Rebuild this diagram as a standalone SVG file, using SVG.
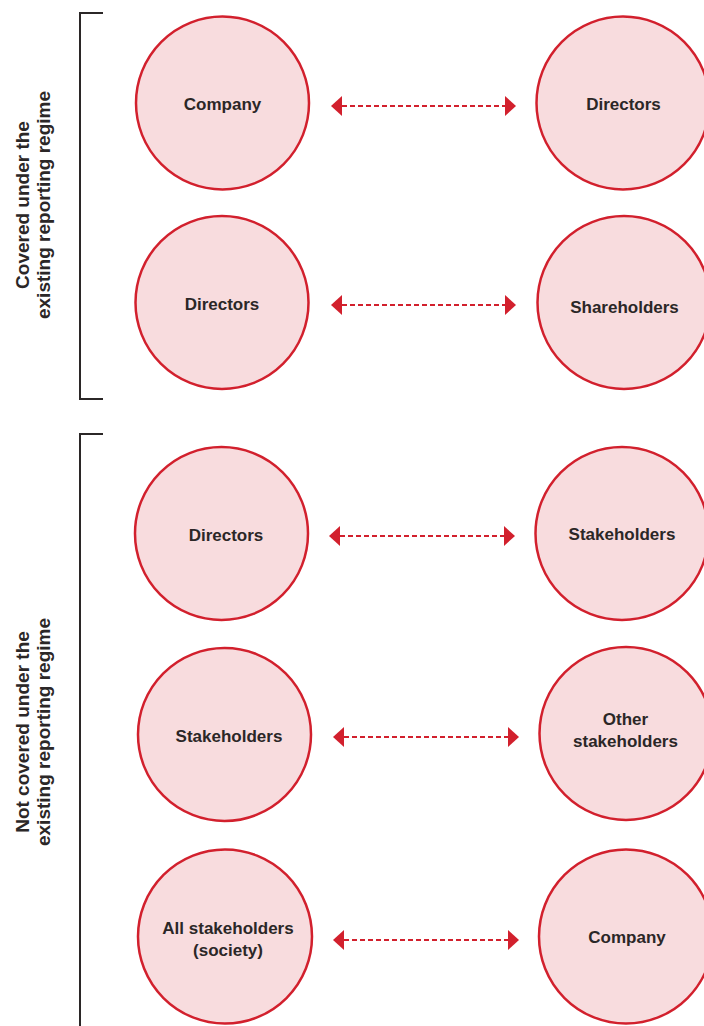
<svg xmlns="http://www.w3.org/2000/svg" width="704" height="1026" viewBox="0 0 704 1026">
<defs>
<style>
.node circle{fill:#f8dcde;stroke:#d2202d;stroke-width:2.5}
.node text{font-family:"Liberation Sans",Arial,sans-serif;font-weight:700;font-size:17px;fill:#2b2727;text-anchor:middle}
.lbl{font-family:"Liberation Sans",Arial,sans-serif;font-weight:700;font-size:19px;fill:#2b2727;text-anchor:middle}
.bracket{fill:none;stroke:#2b2727;stroke-width:2}
.conn line{stroke:#d2202d;stroke-width:2;stroke-dasharray:5 3}
</style>
<marker id="ah" viewBox="0 0 11 20" refX="0" refY="10" markerWidth="11" markerHeight="20" markerUnits="userSpaceOnUse" orient="auto-start-reverse">
<path d="M0,0 L11,10 L0,20 Z" fill="#d2202d"/>
</marker>
</defs>
<g id="brackets">
<path class="bracket" d="M103,13 H80 V399 H103"/>
<path class="bracket" d="M103,434 H80 V1026"/>
</g>
<g id="labels">
<text class="lbl" transform="translate(29,205) rotate(-90)">Covered under the</text>
<text class="lbl" transform="translate(50,205) rotate(-90)">existing reporting regime</text>
<text class="lbl" transform="translate(29,732) rotate(-90)">Not covered under the</text>
<text class="lbl" transform="translate(50,732) rotate(-90)">existing reporting regime</text>
</g>
<g id="connectors" class="conn">
<line x1="342" y1="106" x2="505" y2="106" marker-start="url(#ah)" marker-end="url(#ah)"/>
<line x1="342" y1="305" x2="505" y2="305" marker-start="url(#ah)" marker-end="url(#ah)"/>
<line x1="340" y1="536" x2="504" y2="536" marker-start="url(#ah)" marker-end="url(#ah)"/>
<line x1="344" y1="737" x2="508" y2="737" marker-start="url(#ah)" marker-end="url(#ah)"/>
<line x1="344" y1="940" x2="508" y2="940" marker-start="url(#ah)" marker-end="url(#ah)"/>
</g>
<g id="n1" class="node"><circle cx="222.5" cy="103" r="86.5"/><text x="222.5" y="110">Company</text></g>
<g id="n2" class="node"><circle cx="623" cy="103" r="86.5"/><text x="623.5" y="110">Directors</text></g>
<g id="n3" class="node"><circle cx="222" cy="302.5" r="86.5"/><text x="222" y="310">Directors</text></g>
<g id="n4" class="node"><circle cx="624" cy="302.5" r="86.5"/><text x="624.5" y="313">Shareholders</text></g>
<g id="n5" class="node"><circle cx="221.5" cy="533.5" r="86.5"/><text x="226" y="541">Directors</text></g>
<g id="n6" class="node"><circle cx="622" cy="533.5" r="86.5"/><text x="622" y="540">Stakeholders</text></g>
<g id="n7" class="node"><circle cx="224.5" cy="734.5" r="86.5"/><text x="229" y="742">Stakeholders</text></g>
<g id="n8" class="node"><circle cx="626" cy="733.5" r="86.5"/><text x="625.5" y="725">Other</text><text x="625.5" y="747">stakeholders</text></g>
<g id="n9" class="node"><circle cx="225" cy="936.5" r="87"/><text x="228" y="934">All stakeholders</text><text x="228" y="956">(society)</text></g>
<g id="n10" class="node"><circle cx="626" cy="936.5" r="87"/><text x="627" y="943">Company</text></g>
</svg>
